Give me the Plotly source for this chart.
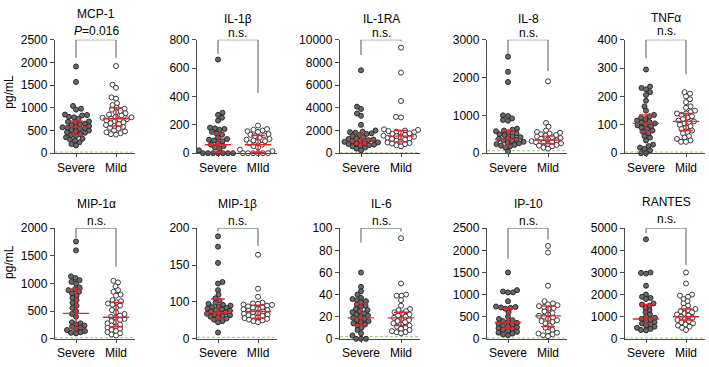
import numpy as np
import plotly.graph_objects as go

# ---------------- data ----------------
cytokines = ["MCP-1", "IL-1β", "IL-1RA", "IL-8", "TNFα",
             "MIP-1α", "MIP-1β", "IL-6", "IP-10", "RANTES"]
p_labels = ["<i>P</i>=0.016", "n.s.", "n.s.", "n.s.", "n.s.",
            "n.s.", "n.s.", "n.s.", "n.s.", "n.s."]
group_labels = [["Severe", "Mild"], ["Severe", "MIld"], ["Severe", "Mild"], ["Severe", "Mild"], ["Severe", "Mild"],
                ["Severe", "Mild"], ["Severe", "MIld"], ["Severe", "Mild"], ["Severe", "Mild"], ["Severe", "Mild"]]
y_max = [2500, 800, 10000, 3000, 400, 2000, 200, 100, 2500, 5000]
y_ticks = [[0, 500, 1000, 1500, 2000, 2500], [0, 200, 400, 600, 800], [0, 2000, 4000, 6000, 8000, 10000],
           [0, 1000, 2000, 3000], [0, 100, 200, 300, 400], [0, 500, 1000, 1500, 2000],
           [0, 100, 150, 200], [0, 20, 40, 60, 80, 100], [0, 500, 1000, 1500, 2000, 2500],
           [0, 1000, 2000, 3000, 4000, 5000]]
detection_limit = [25, 3, 40, 65, 4, 20, 4, 2, 20, 40]

mcp1_severe = [1910, 1570, 1040, 980, 960, 850, 840, 830, 800, 790, 760, 700, 690, 680, 650, 640, 620, 600, 580,
               570, 560, 550, 530, 510, 500, 480, 460, 450, 420, 400, 380, 350, 320, 300, 280, 240, 200, 170]
mcp1_mild = [1920, 1510, 1440, 1230, 1200, 1100, 1060, 1000, 980, 960, 930, 900, 880, 850, 830, 800, 790, 780, 760,
             750, 740, 720, 700, 680, 660, 640, 620, 600, 580, 560, 540, 500, 480, 460, 440, 420, 410]
il1b_severe = [660, 285, 270, 250, 230, 180, 175, 170, 165, 150, 140, 130, 110, 100, 95, 90, 85, 70, 60, 50, 40,
               30, 20, 0, 0, 0, 0, 0, 0, 0]
il1b_mild = [195, 170, 165, 160, 155, 150, 135, 130, 125, 120, 110, 100, 95, 90, 85, 80, 70, 60, 50, 40, 25, 15,
             0, 0, 0, 0, 0, 0]
il1ra_severe = [7300, 4100, 3900, 3500, 3300, 2500, 2000, 1900, 1850, 1800, 1750, 1700, 1600, 1500, 1400, 1300,
                1250, 1200, 1150, 1100, 1050, 1000, 950, 900, 850, 800, 750, 700, 650, 600, 500, 400, 250]
il1ra_mild = [9300, 7100, 4600, 3200, 3150, 2100, 2050, 2000, 1950, 1900, 1850, 1800, 1750, 1700, 1600, 1550,
              1500, 1450, 1400, 1350, 1300, 1250, 1200, 1100, 1000, 950, 900, 850, 800, 700, 600]
il8_severe = [2550, 2150, 1880, 1000, 980, 920, 880, 860, 650, 620, 600, 580, 550, 520, 500, 480, 450, 420, 400,
              380, 360, 340, 320, 300, 280, 260, 240, 220, 200, 180, 150, 50]
il8_mild = [1900, 800, 700, 600, 560, 540, 520, 500, 480, 460, 440, 420, 400, 380, 360, 340, 320, 300, 290, 280,
            260, 240, 220, 200, 180, 150, 120]
tnfa_severe = [295, 235, 230, 225, 215, 205, 185, 165, 150, 135, 130, 125, 120, 115, 110, 108, 105, 100, 98, 95,
               90, 85, 80, 75, 70, 60, 55, 45, 30, 25, 20, 15, 10, 0, 0]
tnfa_mild = [215, 210, 200, 190, 180, 165, 160, 150, 145, 140, 140, 135, 130, 125, 120, 115, 112, 110, 105, 100,
             95, 90, 85, 80, 75, 70, 60, 55, 50, 45, 40, 40]
mip1a_severe = [1760, 1600, 1130, 1100, 1060, 1030, 1000, 930, 900, 880, 850, 820, 780, 740, 700, 650, 600, 560,
                500, 450, 400, 300, 280, 260, 240, 220, 200, 180, 160, 140, 120, 110, 100]
mip1a_mild = [1050, 1020, 950, 880, 850, 800, 780, 700, 680, 660, 640, 620, 600, 560, 520, 480, 450, 420, 400, 380,
              360, 340, 320, 300, 280, 260, 240, 220, 200, 180, 160, 140, 120, 100, 80, 60]
mip1b_severe = [189, 175, 153, 127, 125, 116, 110, 105, 102, 98, 95, 92, 90, 88, 86, 84, 82, 80, 78, 76, 74, 72,
                70, 68, 66, 64, 62, 60, 58, 55, 52, 48, 45, 17]
mip1b_mild = [164, 118, 107, 98, 96, 95, 93, 92, 90, 88, 86, 84, 82, 80, 78, 76, 74, 72, 70, 68, 66, 64, 62, 60,
              58, 56, 54, 52, 50, 48, 45]
il6_severe = [60, 47, 43, 40, 37, 36, 35, 34, 33, 31, 30, 29, 27, 26, 25, 24, 23, 22, 21, 20, 19, 18, 17, 16, 15,
              14, 13, 12, 10, 8, 5, 3, 0, 0, 0]
il6_mild = [91, 50, 40, 39, 39, 35, 30, 27, 26, 25, 24, 23, 22, 21, 20, 19, 18, 17, 16, 15, 14, 13, 12, 11, 10, 9,
            8, 7, 6, 6, 5]
ip10_severe = [1500, 1100, 1070, 1050, 1050, 850, 730, 720, 710, 700, 680, 600, 500, 450, 420, 400, 380, 360, 340,
               320, 300, 280, 260, 240, 220, 200, 180, 160, 140, 120, 100, 80]
ip10_mild = [2100, 1950, 1200, 850, 800, 780, 760, 740, 720, 700, 680, 620, 580, 550, 520, 500, 480, 450, 420, 400,
             380, 350, 300, 250, 200, 160, 140, 120, 100, 80, 60]
rantes_severe = [4500, 3000, 2980, 2950, 2400, 2000, 1900, 1850, 1800, 1600, 1550, 1500, 1400, 1300, 1200, 1100,
                 1000, 950, 900, 850, 800, 750, 700, 650, 600, 550, 500, 450, 400, 380]
rantes_mild = [3000, 2500, 2000, 1950, 1900, 1800, 1700, 1600, 1500, 1400, 1350, 1300, 1250, 1200, 1150, 1100, 1050,
               1000, 950, 900, 850, 800, 750, 700, 650, 600, 550, 500, 400]

# median, first quartile, third quartile
severe_median = [575, 60, 1150, 370, 105, 460, 71, 19, 370, 900]
severe_q1 = [400, 8, 800, 200, 75, 200, 54, 12.5, 240, 700]
severe_q3 = [710, 140, 1750, 600, 135, 900, 104, 32, 690, 1550]
mild_median = [760, 60, 1500, 350, 112, 390, 74, 19, 520, 1000]
mild_q1 = [600, 5, 1000, 250, 80, 220, 56, 12, 280, 850]
mild_q3 = [1000, 125, 2000, 450, 140, 660, 91, 24, 740, 1350]

severe_data = [mcp1_severe, il1b_severe, il1ra_severe, il8_severe, tnfa_severe,
               mip1a_severe, mip1b_severe, il6_severe, ip10_severe, rantes_severe]
mild_data = [mcp1_mild, il1b_mild, il1ra_mild, il8_mild, tnfa_mild,
             mip1a_mild, mip1b_mild, il6_mild, ip10_mild, rantes_mild]

# ---------------- layout geometry (pixels) ----------------
W, H = 709, 367
col_x0 = [55, 197, 340, 487, 625]
row_top = [34, 230]
row_bottom = [152, 345]
axis_w = 80
px_per_unit = 40.0
x_range = [-0.525, 1.475]
bracket_leg_severe = [2100, 700, 8660, 2615, 335, 1826, 196, 87, 1812, 4768]
bracket_leg_mild = [2100, 424, 9860, 2170, 278, 1304, 176, 97, 2246, 3333]
title_y = [7, 12, 12, 12, 11, 205, 205, 205, 205, 203]
plabel_y = [25, 27, 27, 27, 25, 222, 222, 222, 222, 220]

FONT = "Arial, 'Liberation Sans', sans-serif"
AX = "#4a4a4a"
RED = "#e3262b"
TXT = "#000000"


def transform(i, v):
    v = np.asarray(v, dtype=float)
    if cytokines[i] == "MIP-1β":  # segmented axis: 0-100 compressed by half
        return np.where(v <= 100, v / 2.0, 50 + (v - 100))
    return v


def swarm(ypx, d=4.6):
    order = np.argsort(ypx)
    placed = []
    offs = np.zeros(len(ypx))
    steps = np.arange(0, 200) * 0.5
    for idx, i in enumerate(order):
        y = ypx[i]
        best = None
        for s in steps:
            for sign in ((1, -1) if idx % 2 == 0 else (-1, 1)):
                o = sign * s
                ok = True
                for (xo, yo) in placed:
                    if abs(yo - y) < d and (o - xo) ** 2 + (y - yo) ** 2 < d * d:
                        ok = False
                        break
                if ok:
                    best = o
                    break
            if best is not None:
                break
        offs[i] = best
        placed.append((best, y))
    return offs / px_per_unit


fig = go.Figure()
annotations = []

for i in range(10):
    r, c = divmod(i, 5)
    x0 = col_x0[c]
    xa = "x" if i == 0 else f"x{i+1}"
    ya = "y" if i == 0 else f"y{i+1}"
    xkey = "xaxis" if i == 0 else f"xaxis{i+1}"
    ykey = "yaxis" if i == 0 else f"yaxis{i+1}"
    top_t = float(transform(i, y_max[i]))
    h_px = row_bottom[r] - row_top[r]
    scale = h_px / top_t

    # detection limit
    lod = float(transform(i, detection_limit[i]))
    fig.add_trace(go.Scatter(x=x_range, y=[lod, lod], mode="lines", xaxis=xa, yaxis=ya,
                             line=dict(color="#9cc97f", width=1, dash="3px,2px"), hoverinfo="skip",
                             showlegend=False))

    for g, (vals, fill, line) in enumerate([(severe_data[i], "#6a6a6a", "#2a2a2a"),
                                             (mild_data[i], "#ffffff", "#3a3a3a")]):
        yt = transform(i, vals)
        offs = swarm(yt * scale)
        fig.add_trace(go.Scatter(x=g + offs, y=yt, mode="markers", xaxis=xa, yaxis=ya, cliponaxis=False,
                                 marker=dict(size=5, color=fill, line=dict(color=line, width=1)),
                                 showlegend=False, hoverinfo="skip"))

    # median + IQR
    for g, (med, q1, q3) in enumerate([(severe_median[i], severe_q1[i], severe_q3[i]),
                                       (mild_median[i], mild_q1[i], mild_q3[i])]):
        m, a, b = (float(transform(i, v)) for v in (med, q1, q3))
        xs = [g - 0.33, g + 0.33, None, g, g, None, g - 0.17, g + 0.17, None, g - 0.17, g + 0.17]
        ys = [m, m, None, a, b, None, a, a, None, b, b]
        fig.add_trace(go.Scatter(x=xs, y=ys, mode="lines", xaxis=xa, yaxis=ya, cliponaxis=False,
                                 line=dict(color=RED, width=1.4), showlegend=False, hoverinfo="skip"))

    # bracket
    ls = float(transform(i, bracket_leg_severe[i]))
    lm = float(transform(i, bracket_leg_mild[i]))
    fig.add_trace(go.Scatter(x=[0, 0, 1, 1], y=[ls, top_t, top_t, lm], mode="lines", xaxis=xa, yaxis=ya,
                             cliponaxis=False, line=dict(color="#666666", width=1.1),
                             showlegend=False, hoverinfo="skip"))

    tickvals = [float(transform(i, t)) for t in y_ticks[i]]
    fig.update_layout({
        xkey: dict(domain=[x0 / W, (x0 + axis_w) / W], range=x_range, anchor=ya,
                   showline=True, linecolor=AX, linewidth=1.3, showgrid=False, zeroline=False,
                   tickvals=[0, 1], ticktext=group_labels[i], ticks="outside", ticklen=3,
                   tickcolor=AX, tickwidth=1.2, tickfont=dict(size=12, color=TXT, family=FONT),
                   fixedrange=True),
        ykey: dict(domain=[1 - row_bottom[r] / H, 1 - row_top[r] / H], range=[0, top_t], anchor=xa,
                   showline=True, linecolor=AX, linewidth=1.3, showgrid=False, zeroline=False,
                   tickvals=tickvals, ticktext=[str(t) for t in y_ticks[i]], ticks="outside",
                   ticklen=4, tickcolor=AX, tickwidth=1.2,
                   tickfont=dict(size=12, color=TXT, family=FONT), fixedrange=True),
    })

    cx = (x0 + 41) / W
    annotations.append(dict(x=cx, y=1 - title_y[i] / H, xref="paper", yref="paper", text=cytokines[i],
                            showarrow=False, font=dict(size=12, color=TXT, family=FONT),
                            xanchor="center", yanchor="middle"))
    annotations.append(dict(x=cx, y=1 - plabel_y[i] / H, xref="paper", yref="paper", text=p_labels[i],
                            showarrow=False, font=dict(size=12, color=TXT, family=FONT),
                            xanchor="center", yanchor="middle"))

for yc in (88, 265):
    annotations.append(dict(x=9 / W, y=1 - yc / H, xref="paper", yref="paper", text="pg/mL", textangle=-90,
                            showarrow=False, font=dict(size=12, color=TXT, family=FONT),
                            xanchor="center", yanchor="middle"))

fig.update_layout(width=W, height=H, margin=dict(l=0, r=0, t=0, b=0), paper_bgcolor="white",
                  plot_bgcolor="white", annotations=annotations, showlegend=False)

fig.write_html("out.html", config={"displayModeBar": False},
               post_script="document.body.style.margin='0';document.body.style.padding='0';")
